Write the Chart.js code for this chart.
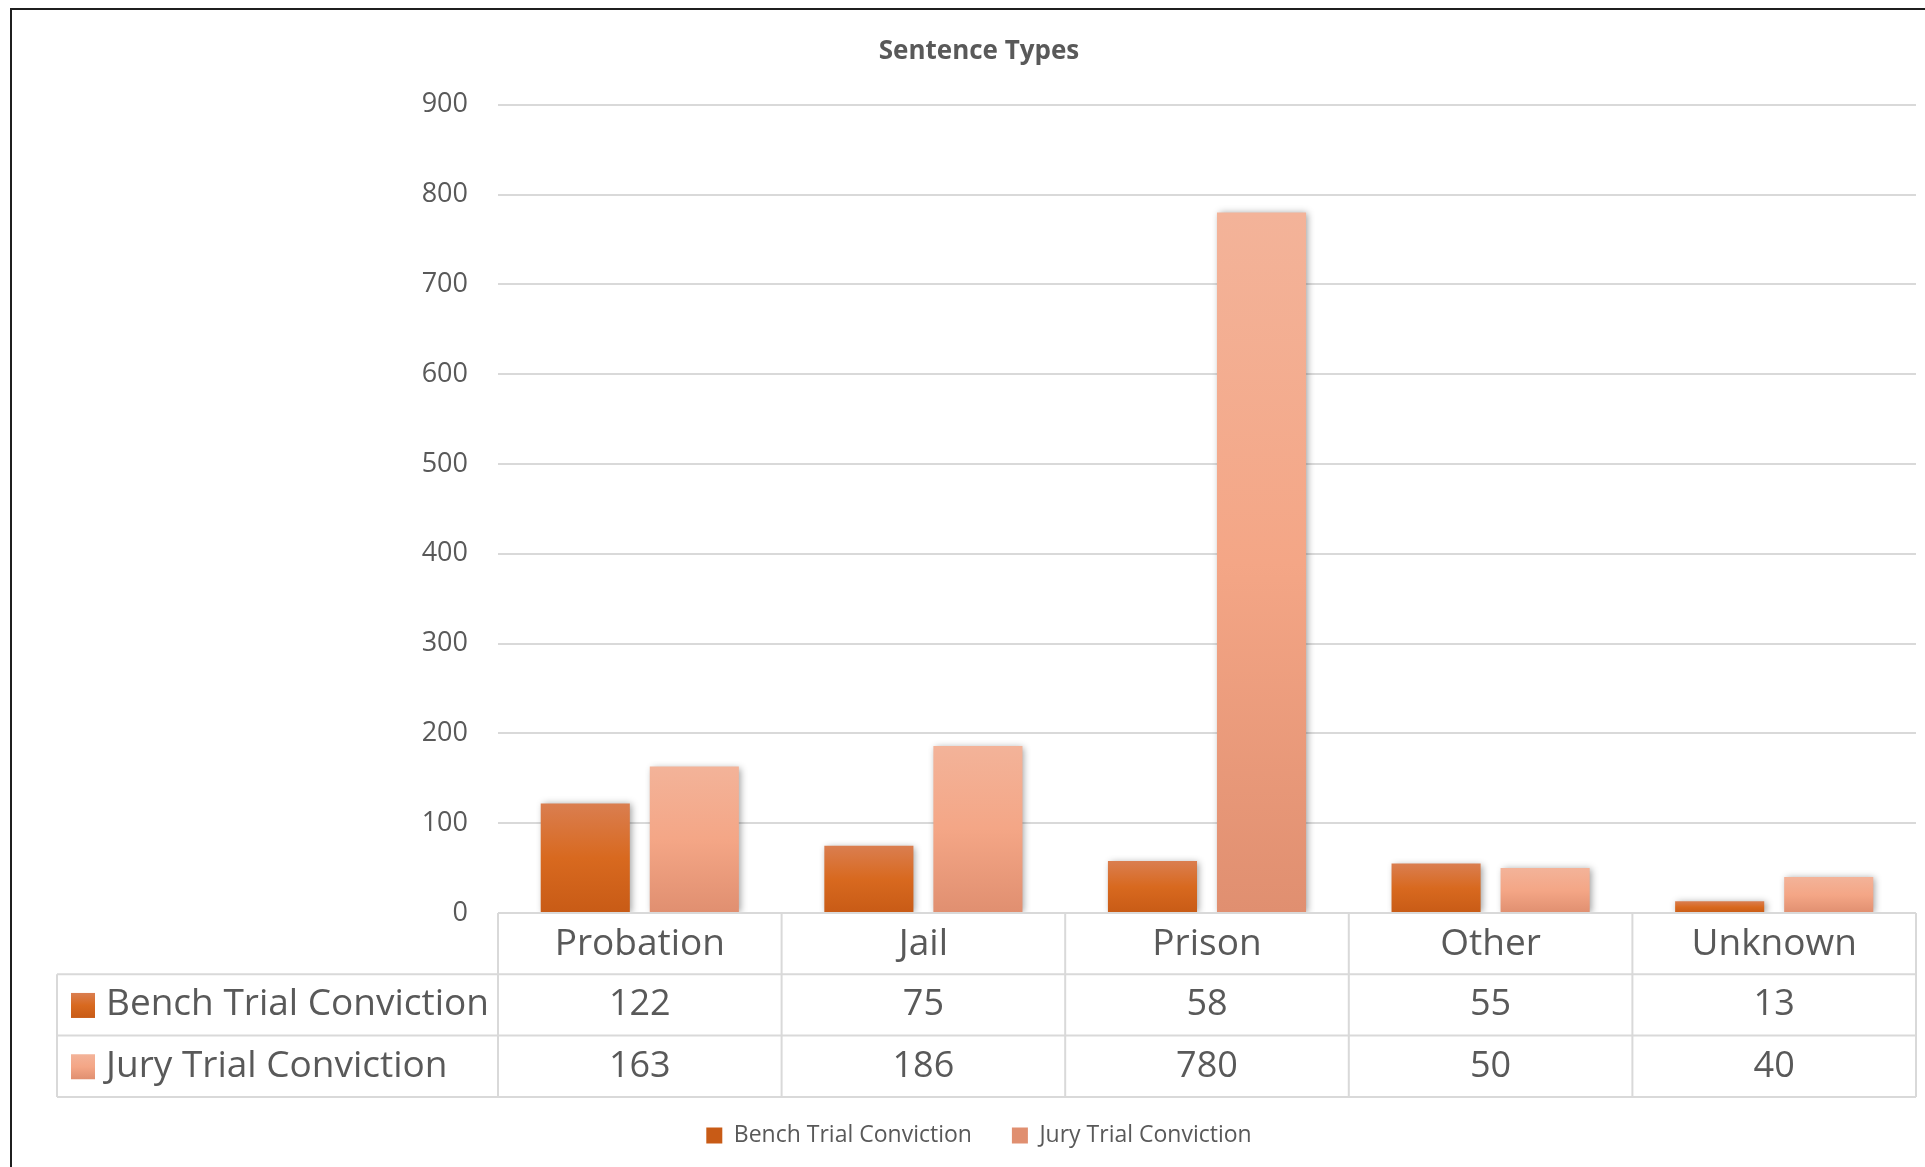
<!DOCTYPE html>
<html>
<head>
<meta charset="utf-8">
<title>Sentence Types</title>
<script src="https://cdn.jsdelivr.net/npm/chart.js@4/dist/chart.umd.min.js"></script>
<style>
  html, body { margin: 0; padding: 0; background: #fff; overflow: hidden; width: 1925px; height: 1167px; }
  #c { position: absolute; left: 0; top: 0; }
  /* 원본 차트 테두리: 오른쪽/아래는 잘려 있음 */
  .frame { position: absolute; left: 10px; top: 8px; width: 3000px; height: 3000px; border: 2px solid #1f1f1f; pointer-events: none; }
</style>
</head>
<body>
<canvas id="c" width="1958" height="1167"></canvas>
<div class="frame"></div>
<script>
/* Sentence Types — 막대 + 하단 데이터 표 */
const TITLE = "Sentence Types";
const categories = ["Probation", "Jail", "Prison", "Other", "Unknown"];
const seriesNames = ["Bench Trial Conviction", "Jury Trial Conviction"];
const benchValues = [122, 75, 58, 55, 13];
const juryValues = [163, 186, 780, 50, 40];
const yTicks = [0, 100, 200, 300, 400, 500, 600, 700, 800, 900];

const FONT = '"Open Sans", Lato, sans-serif';
const INK = "#595959";
const LINE = "#D9D9D9";
// 그라데이션 (위 → 가운데 → 아래)
const benchStops = ["#DA7E50", "#D8691F", "#C85B16"];
const juryStops = ["#F3B399", "#F4A686", "#E08F70"];

function barFill(stops) {
  return (c) => {
    if (c.type !== "data") return stops[1];
    const ch = c.chart, y = ch.scales.y;
    if (!y) return stops[1];
    const top = y.getPixelForValue(c.raw), base = y.getPixelForValue(0);
    if (!isFinite(top) || !isFinite(base) || top === base) return stops[1];
    const g = ch.ctx.createLinearGradient(0, top, 0, base);
    g.addColorStop(0, stops[0]); g.addColorStop(0.5, stops[1]); g.addColorStop(1, stops[2]);
    return g;
  };
}

// 막대 그림자
const barShadow = {
  id: "barShadow",
  beforeDatasetsDraw(chart) {
    const c = chart.ctx; c.save();
    c.shadowColor = "rgba(0,0,0,0.38)"; c.shadowBlur = 7; c.shadowOffsetX = 2; c.shadowOffsetY = 1;
  },
  afterDatasetsDraw(chart) { chart.ctx.restore(); },
};

// 엑셀식 데이터 표 (x 스케일 기준으로 칸 배치)
const dataTable = {
  id: "dataTable",
  afterDraw(chart) {
    const { ctx, scales: { x } } = chart;
    const n = categories.length;
    const colW = x.width / n;
    const rowH = 61.3;
    const left = 57;
    const y0 = x.top, y1 = y0 + rowH, y2 = y1 + rowH, y3 = y2 + rowH;
    ctx.save();
    ctx.strokeStyle = LINE; ctx.lineWidth = 2;
    ctx.beginPath();
    ctx.moveTo(x.left, y0); ctx.lineTo(x.right, y0);
    [y1, y2, y3].forEach(yy => { ctx.moveTo(left, yy); ctx.lineTo(x.right, yy); });
    ctx.moveTo(left, y1); ctx.lineTo(left, y3);
    for (let i = 0; i <= n; i++) {
      const xx = x.getPixelForValue(i) - colW / 2;
      ctx.moveTo(xx, y0); ctx.lineTo(xx, y3);
    }
    ctx.stroke();

    ctx.textBaseline = "middle";
    const rows = [benchValues, juryValues];
    const stops = [benchStops, juryStops];
    rows.forEach((vals, r) => {
      const cy = (r === 0 ? (y1 + y2) : (y2 + y3)) / 2;
      // 범례 키
      const g = ctx.createLinearGradient(0, cy - 12, 0, cy + 13);
      g.addColorStop(0, stops[r][0]); g.addColorStop(0.5, stops[r][1]); g.addColorStop(1, stops[r][2]);
      ctx.fillStyle = g;
      ctx.fillRect(71, cy - 12, 24, 25);
      ctx.fillStyle = INK;
      ctx.font = `37px ${FONT}`;
      ctx.textAlign = "left";
      ctx.fillText(seriesNames[r], 106, cy);
      ctx.font = `36px ${FONT}`;
      ctx.textAlign = "center";
      vals.forEach((v, i) => ctx.fillText(String(v), x.getPixelForValue(i), cy));
    });
    ctx.restore();
  },
};

new Chart(document.getElementById("c"), {
  type: "bar",
  data: {
    labels: categories,
    datasets: [
      { label: seriesNames[0], data: benchValues, backgroundColor: barFill(benchStops), barPercentage: 0.817, categoryPercentage: 0.769 },
      { label: seriesNames[1], data: juryValues, backgroundColor: barFill(juryStops), barPercentage: 0.817, categoryPercentage: 0.769 },
    ],
  },
  options: {
    responsive: false, animation: false, devicePixelRatio: 1,
    layout: { padding: { left: 42, right: 42, top: 0, bottom: 10 } },
    plugins: {
      title: { display: true, text: TITLE, color: INK, font: { family: FONT, size: 26, weight: "bold" }, padding: { top: 35.5, bottom: 38 } },
      legend: {
        position: "bottom",
        labels: { boxWidth: 16, boxHeight: 16, padding: 40, color: INK, font: { family: FONT, size: 23 } },
      },
      tooltip: { enabled: false },
    },
    scales: {
      x: {
        grid: { display: false }, border: { display: false },
        ticks: { color: INK, font: { family: FONT, size: 37 }, padding: 1, maxRotation: 0 },
        afterFit: (s) => { s.height = 171; },
      },
      y: {
        min: yTicks[0], max: yTicks[yTicks.length - 1],
        grid: { color: LINE, lineWidth: 2, drawTicks: false }, border: { display: false },
        ticks: { stepSize: yTicks[1] - yTicks[0], padding: 30, color: INK, font: { family: FONT, size: 27 } },
        afterFit: (s) => { s.width = 456; },
      },
    },
  },
  plugins: [barShadow, dataTable],
});
</script>
</body>
</html>
